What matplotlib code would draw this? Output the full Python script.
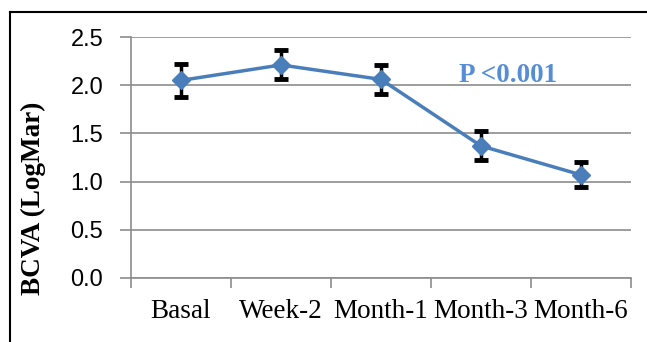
import numpy as np
import matplotlib.pyplot as plt
from matplotlib.lines import Line2D

visits = ["Basal", "Week-2", "Month-1", "Month-3", "Month-6"]
bcva_mean = [2.05, 2.21, 2.06, 1.37, 1.07]
bcva_err = [0.17, 0.15, 0.15, 0.15, 0.13]
y_ticks = [0.0, 0.5, 1.0, 1.5, 2.0, 2.5]

fig = plt.figure(figsize=(6.47, 3.42), dpi=100)
ax = fig.add_axes([131 / 647, 1 - 278 / 342, 500 / 647, 241 / 342])

x = np.arange(len(visits))
ax.errorbar(x, bcva_mean, yerr=bcva_err, fmt="none", ecolor="black",
            elinewidth=2.5, capsize=5, capthick=3.5, zorder=2)
ax.plot(x, bcva_mean, color="#4A7EBB", lw=2.5, marker="D", markersize=9,
        markerfacecolor="#4A7EBB", markeredgecolor="#4A7EBB", zorder=3)

ax.set_xlim(-0.5, len(visits) - 0.5)
ax.set_ylim(0, 2.5)
ax.set_yticks(y_ticks)
ax.set_yticklabels([f"{v:.1f}" for v in y_ticks], family="Liberation Sans", fontsize=17)
ax.yaxis.grid(True, color="#8C8C8C", lw=1.2)
ax.set_axisbelow(True)

# category labels sit between tick marks placed at the category borders
ax.set_xticks(np.arange(len(visits) + 1) - 0.5)
ax.set_xticklabels([])
ax.set_xticks(x, minor=True)
ax.set_xticklabels(visits, minor=True, family="Liberation Serif", fontsize=19.5)
ax.tick_params(axis="x", which="minor", length=0, pad=15)
ax.tick_params(axis="x", which="major", length=7, color="#8C8C8C", width=1.2)
ax.tick_params(axis="y", length=8, color="#8C8C8C", width=1.2, pad=12)

for s in ["top", "right"]:
    ax.spines[s].set_visible(False)
ax.spines["left"].set_color("#8C8C8C")
ax.spines["bottom"].set_color("#8C8C8C")
ax.spines["left"].set_linewidth(1.2)
ax.spines["bottom"].set_linewidth(1.2)

ax.set_ylabel("BCVA (LogMar)", family="Liberation Serif", fontweight="bold",
              fontsize=19.5)
ax.yaxis.set_label_coords(-0.17, 0.33)

ax.text(3.27, 2.105, "P <0.001", family="Liberation Serif", fontweight="bold",
        fontsize=19.5, color="#558ED5", ha="center", va="center")

# chart frame: top and left edges
fig.add_artist(Line2D([10 / 647, 1], [1 - 12 / 342, 1 - 12 / 342], color="black", lw=1.5))
fig.add_artist(Line2D([10 / 647, 10 / 647], [0, 1 - 12 / 342], color="black", lw=1.5))

fig.savefig("out.png", dpi=100)
